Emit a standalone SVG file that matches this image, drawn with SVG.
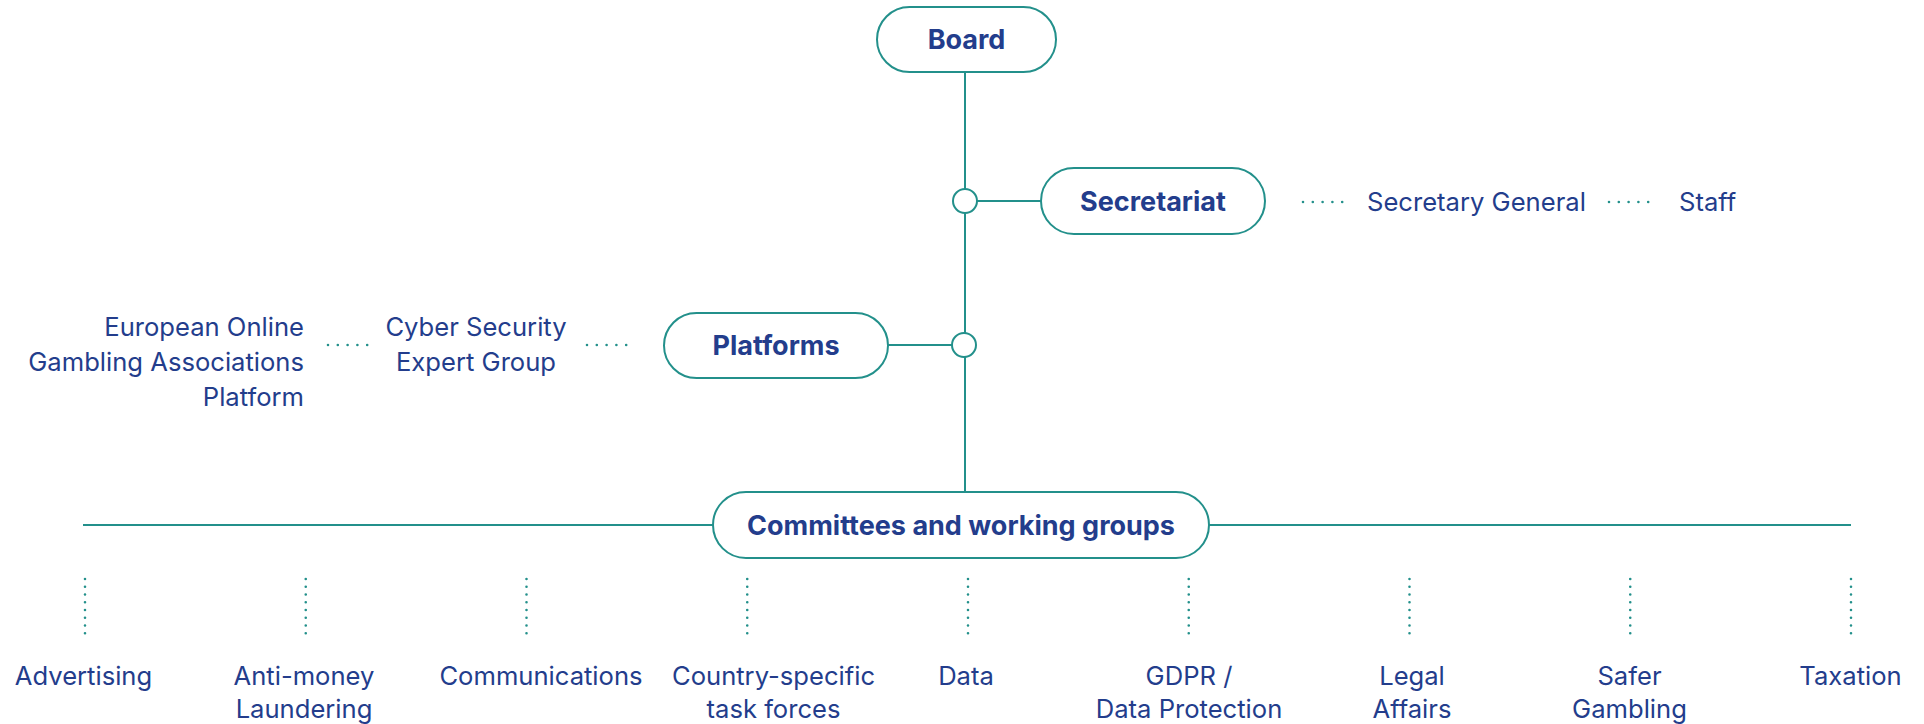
<svg xmlns="http://www.w3.org/2000/svg" width="1924" height="724" viewBox="0 0 1924 724">
<style>
.box{fill:#fff;stroke:#23908b;stroke-width:2}
.ln{stroke:#23908b;stroke-width:2;fill:none}
.dot{stroke:#23908b;stroke-width:2.6;stroke-linecap:round;fill:none}
.j{fill:#fff;stroke:#23908b;stroke-width:2}
.b{font-family:Inter,"Liberation Sans",sans-serif;font-weight:700;font-size:27px;fill:#233d8c;text-anchor:middle}
.t{font-family:Inter,"Liberation Sans",sans-serif;font-size:25.6px;fill:#233d8c}
.m{text-anchor:middle}
.e{text-anchor:end}
</style>
<rect width="1924" height="724" fill="#fff"/>
<g id="connectors">
<line class="ln" x1="965" y1="72" x2="965" y2="492"/>
<line class="ln" x1="977" y1="201" x2="1041" y2="201"/>
<line class="ln" x1="888" y1="345" x2="952" y2="345"/>
<line class="ln" x1="83" y1="525" x2="713" y2="525"/>
<line class="ln" x1="1209" y1="525" x2="1851" y2="525"/>
<path class="dot" d="M1303 202H1343M1609 202H1649M328 345H368M587 345H627" stroke-dasharray="0 9.8"/>
<path class="dot" d="M85 579V641M305.75 579V641M526.5 579V641M747.25 579V641M968 579V641M1188.75 579V641M1409.5 579V641M1630.25 579V641M1851 579V641" stroke-dasharray="0 7.75"/>
<circle class="j" cx="965" cy="201" r="12"/>
<circle class="j" cx="964" cy="345" r="12"/>
</g>
<g id="board"><rect class="box" x="877" y="7" width="179" height="65" rx="32.5"/><text class="b" x="966.5" y="49">Board</text></g>
<g id="secretariat"><rect class="box" x="1041" y="168" width="224" height="66" rx="33"/><text class="b" x="1153" y="211">Secretariat</text></g>
<g id="platforms"><rect class="box" x="664" y="313" width="224" height="65" rx="32.5"/><text class="b" x="776" y="355">Platforms</text></g>
<g id="committees"><rect class="box" x="713" y="492" width="496" height="66" rx="33"/><text class="b" x="961" y="535">Committees and working groups</text></g>
<g id="secretary-general"><text class="t" x="1367" y="211">Secretary General</text></g>
<g id="staff"><text class="t" x="1679" y="211">Staff</text></g>
<g id="eoga"><text class="t e" x="304" y="336">European Online</text><text class="t e" x="304" y="371">Gambling Associations</text><text class="t e" x="304" y="406">Platform</text></g>
<g id="cyber"><text class="t m" x="476" y="336">Cyber Security</text><text class="t m" x="476" y="371">Expert Group</text></g>
<g id="advertising"><text class="t m" x="83.5" y="685">Advertising</text></g>
<g id="aml"><text class="t m" x="304" y="685">Anti-money</text><text class="t m" x="304" y="718">Laundering</text></g>
<g id="communications"><text class="t m" x="541" y="685">Communications</text></g>
<g id="country"><text class="t m" x="773.5" y="685">Country-specific</text><text class="t m" x="773.5" y="718">task forces</text></g>
<g id="data"><text class="t m" x="966" y="685">Data</text></g>
<g id="gdpr"><text class="t m" x="1189" y="685">GDPR /</text><text class="t m" x="1189" y="718">Data Protection</text></g>
<g id="legal"><text class="t m" x="1412" y="685">Legal</text><text class="t m" x="1412" y="718">Affairs</text></g>
<g id="safer"><text class="t m" x="1629.5" y="685">Safer</text><text class="t m" x="1629.5" y="718">Gambling</text></g>
<g id="taxation"><text class="t m" x="1850.5" y="685">Taxation</text></g>
</svg>
